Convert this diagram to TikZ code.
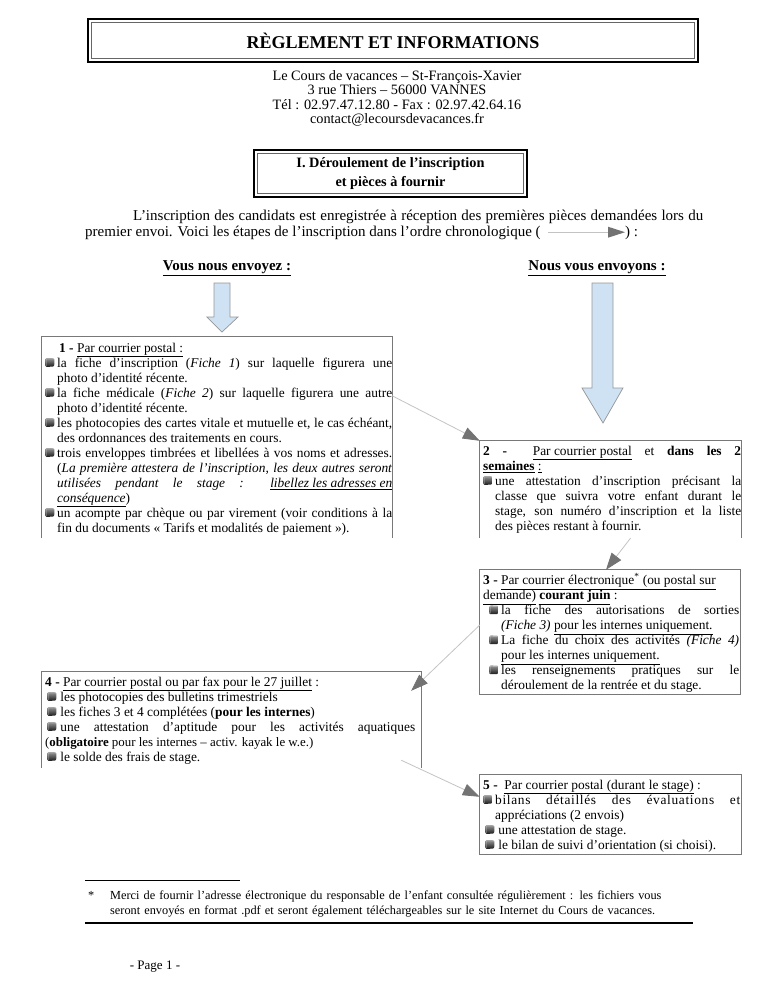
\documentclass[tikz,border=0pt]{standalone}
\usepackage{fontspec}
\setmainfont{Liberation Serif}
\usetikzlibrary{arrows.meta}
\definecolor{arrowblue}{RGB}{207,226,243}
\definecolor{arrowedge}{RGB}{150,150,150}
\definecolor{boxedge}{RGB}{120,120,120}
\definecolor{connline}{RGB}{195,195,195}
\definecolor{connhead}{RGB}{115,115,115}
\newcommand\uline[1]{\underline{#1}}
\newcommand\bul{\tikz[x=1pt,y=1pt,baseline=-0.3pt]{\shade[top color=black!40,bottom color=black!90,rounded corners=1.2pt] (0,0) -- (9,0.3) -- (9.2,8.6) -- (0.3,8.9) -- cycle; \draw[black!25,line width=0.5pt,line cap=round] (0.8,1) -- (0.9,8.1) -- (8.4,7.9);}}
\newcommand\itm[1][12pt]{\par\noindent\hangindent=#1\hangafter=1\makebox[#1][l]{\bul}}
\newcommand\itmB{\par\noindent\hangindent=18pt\hangafter=1\hspace*{6pt}\makebox[12pt][l]{\bul}}
\newcommand\itmC{\par\noindent\hspace*{2pt}\bul\hspace{4pt}}
\newcommand\inarrow{\tikz[x=1pt,y=1pt,baseline=0pt]{\draw[connline,line width=0.8pt] (0,4) -- (62,4); \fill[connhead] (60,-1.5) -- (77,4) -- (60,9.5) -- cycle;}}
\newcommand\fst{\rule{0pt}{11pt}}
\tikzset{
  frame/.style={draw=boxedge,line width=0.9pt},
  boxframe/.style={inner sep=0pt,draw=none},
  boxtext/.style={anchor=north west,inner sep=0pt,align=justify,font=\fontsize{13.4}{15}\selectfont},
  blockarrow/.style={fill=arrowblue,draw=arrowedge,line width=0.7pt,line join=miter},
  conn/.style={draw=connline,line width=0.8pt,-{Triangle[length=17pt,width=12pt,color=connhead]}},
  dbl/.style={line width=2pt,draw=black},
  dblin/.style={line width=0.7pt,draw=black!60}
}
\begin{document}
\begin{tikzpicture}[x=1pt,y=-1pt]
\useasboundingbox (0,0) rectangle (768,994);

% title
\node[minimum width=610pt,minimum height=42pt,inner sep=0pt,font=\bfseries\fontsize{18}{20}\selectfont] (title) at (393,40.5) {RÈGLEMENT ET INFORMATIONS};
\draw[dbl] (title.north west) rectangle (title.south east);
\draw[dblin] ([shift={(3.5,3.5)}]title.north west) rectangle ([shift={(-3.5,-3.5)}]title.south east);

% address
\node[align=center,font=\fontsize{14.3}{14.5}\selectfont,inner sep=0pt] (addr) at (397,98.5) {Le Cours de vacances – St-François-Xavier\\3 rue Thiers – 56000 VANNES\\Tél : 02.97.47.12.80 - Fax : 02.97.42.64.16\\contact@lecoursdevacances.fr};

% section box
\node[minimum width=273pt,minimum height=47pt,inner sep=0pt,align=center,font=\bfseries\fontsize{14.3}{19}\selectfont] (sec) at (390.5,173.5) {I. Déroulement de l'inscription\\et pièces à fournir};
\draw[dbl] (sec.north west) rectangle (sec.south east);
\draw[dblin] ([shift={(3.5,3.5)}]sec.north west) rectangle ([shift={(-3.5,-3.5)}]sec.south east);

% paragraph
\node[anchor=north west,text width=618pt,align=justify,inner sep=0pt,font=\fontsize{15}{16}\selectfont] (para) at (85,209) {\noindent\fst\hspace*{48pt}L'inscription des candidats est enregistrée à réception des premières pièces demandées lors du\linebreak premier envoi. Voici les étapes de l'inscription dans l'ordre chronologique (\hspace{7pt}\inarrow) :\par};

% headings
\node[font=\bfseries\fontsize{15}{16}\selectfont,inner sep=0pt] (hl) at (227,268) {\uline{Vous nous envoyez :}};
\node[font=\bfseries\fontsize{15}{16}\selectfont,inner sep=0pt] (hr) at (597,268) {\uline{Nous vous envoyons :}};

% block arrows
\draw[blockarrow] (214,283) -- (230,283) -- (230,317) -- (238,317) -- (222,332) -- (207,317) -- (214,317) -- cycle;
\draw[blockarrow] (592,283) -- (613,283) -- (613,388) -- (623,388) -- (603,423) -- (582,388) -- (592,388) -- cycle;

% box 1
\node[boxframe,minimum width=350pt,minimum height=201pt] (b1) at (217,437.5) {};
\draw[frame] (b1.south west) -- (b1.north west) -- (b1.north east) -- (b1.south east);
\node[boxtext,text width=347pt] (t1) at (45,341) {\noindent\fst\hspace*{14pt}\textbf{1 -} \uline{Par courrier postal :}
\itm la fiche d'inscription (\textit{Fiche 1}) sur laquelle figurera une\linebreak photo d'identité récente.
\itm la fiche médicale (\textit{Fiche 2}) sur laquelle figurera une autre\linebreak photo d'identité récente.
\itm les photocopies des cartes vitale et mutuelle et, le cas échéant,\linebreak des ordonnances des traitements en cours.
\itm trois enveloppes timbrées et libellées à vos noms et adresses.\linebreak (\textit{La première attestera de l'inscription, les deux autres seront}\linebreak \textit{utilisées pendant le stage : \uline{libellez les adresses en}}\linebreak \textit{\uline{conséquence}})
\itm un acompte par chèque ou par virement (voir conditions à la\linebreak fin du documents « Tarifs et modalités de paiement »).\par};

% box 2
\node[boxframe,minimum width=261pt,minimum height=97pt] (b2) at (610.5,489.5) {};
\draw[frame] (b2.south west) -- (b2.north west) -- (b2.north east) -- (b2.south east);
\node[boxtext,text width=258pt] (t2) at (483,444) {\noindent\fst\textbf{2 -}\ \ \uline{Par courrier postal} et \textbf{dans les 2}\linebreak \textbf{\uline{semaines}} \uline{:}
\itm une attestation d'inscription précisant la\linebreak classe que suivra votre enfant durant le\linebreak stage, son numéro d'inscription et la liste\linebreak des pièces restant à fournir.\par};

% box 3
\node[boxframe,minimum width=260pt,minimum height=124pt] (b3) at (610,632) {};
\draw[frame] (b3.north west) rectangle (b3.south east);
\node[boxtext,text width=256pt] (t3) at (483,573) {\noindent\fst\textbf{3 -} \uline{Par courrier électronique\textsuperscript{*} (ou postal sur}\newline \uline{demande)} \textbf{\uline{courant juin}} :
\itmB la fiche des autorisations de sorties\linebreak \textit{(Fiche 3)} \uline{pour les internes uniquement.}
\itmB La fiche du choix des activités \textit{(Fiche 4)}\linebreak \uline{pour les internes uniquement.}
\itmB les renseignements pratiques sur le\linebreak déroulement de la rentrée et du stage.\par};

% box 4
\node[boxframe,minimum width=379pt,minimum height=96pt] (b4) at (231.5,720) {};
\draw[frame] (b4.south west) -- (b4.north west) -- (b4.north east) -- (b4.south east);
\node[boxtext,text width=370pt] (t4) at (45,675) {\noindent\fst\textbf{4 -} \uline{Par courrier postal ou par fax pour le 27 juillet} :
\itmC les photocopies des bulletins trimestriels
\itmC les fiches 3 et 4 complétées (\textbf{pour les internes})
\itmC une attestation d'aptitude pour les activités aquatiques\linebreak {\fontsize{12.9}{15}\selectfont(\textbf{obligatoire} pour les internes – activ. kayak le w.e.)}
\itmC le solde des frais de stage.\par};

% box 5
\node[boxframe,minimum width=261pt,minimum height=79pt] (b5) at (610.5,814.5) {};
\draw[frame] (b5.north west) rectangle (b5.south east);
\node[boxtext,text width=257pt] (t5) at (483,778) {\noindent\fst\textbf{5 -}\ \ \uline{Par courrier postal (durant le stage)} :
\itm {\addfontfeature{LetterSpace=5}bilans détaillés des évaluations et}\linebreak appréciations (2 envois)
\itmC une attestation de stage.
\itmC le bilan de suivi d'orientation (si choisi).\par};

% connectors
\draw[conn] ([yshift=-59pt]b1.north east) -- (b2.north west);
\draw[conn] ([xshift=20pt]b2.south) -- ([xshift=-4pt]b3.north);
\draw[conn] ([yshift=7pt]b3.west) -- ([shift={(-10,19)}]b4.north east);
\draw[conn] ([shift={(-20,-8)}]b4.south east) -- ([yshift=-22pt]b5.north west);

% footnote
\draw[line width=0.6pt] (85,880) coordinate (fr1) -- (240,880) coordinate (fr2);
\node[anchor=base west,inner sep=0pt,font=\fontsize{12.3}{14}\selectfont] (fnstar) at (88,899) {*};
\node[anchor=north west,text width=600pt,inner sep=0pt,align=left,font=\fontsize{12.3}{15}\selectfont] (fn) at (110,888) {\rule{0pt}{11pt}Merci de fournir l'adresse électronique du responsable de l'enfant consultée régulièrement : les fichiers vous\\seront envoyés en format .pdf et seront également téléchargeables sur le site Internet du Cours de vacances.};
\draw[line width=1.4pt] (85,923) coordinate (rl1) -- (693,923) coordinate (rl2);
\node[anchor=base,inner sep=0pt,font=\fontsize{13}{14}\selectfont] (page) at (155,969) {- Page 1 -};
\end{tikzpicture}
\end{document}
